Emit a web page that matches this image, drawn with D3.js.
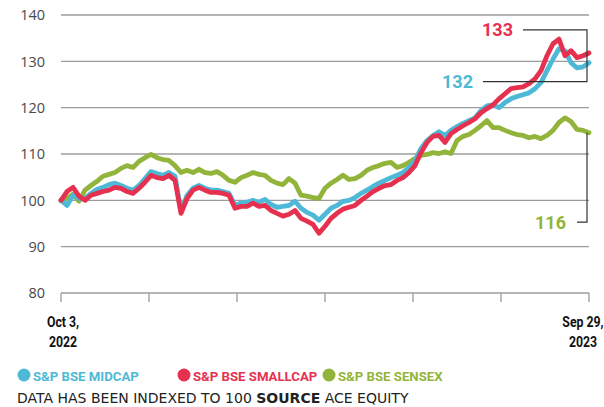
<!DOCTYPE html>
<html><head><meta charset="utf-8">
<script src="https://cdn.jsdelivr.net/npm/d3@7"></script>
<style>
body{margin:0;background:#fff;}
svg{display:block;}
</style></head><body>
<svg id="c" width="604" height="407"></svg>
<script>
// ---- data (indexed to 100, sampled across Oct 3, 2022 – Sep 29, 2023) ----
const seriesNames = ["S&P BSE MIDCAP", "S&P BSE SMALLCAP", "S&P BSE SENSEX"];
const seriesColors = ["#4db9d6", "#e6304f", "#93b43a"];
const yTicks = [80, 90, 100, 110, 120, 130, 140];
const xTickCount = 7;
const startLabel = ["Oct 3,", "2022"];
const endLabel = ["Sep 29,", "2023"];
const endValueLabels = ["132", "133", "116"];

const midcap = [100.0,98.9,101.1,100.4,100.4,101.5,102.4,102.8,103.4,103.7,103.2,102.6,102.2,103.2,104.7,106.2,105.8,105.4,106.0,105.2,
97.6,101.1,102.6,103.2,102.6,102.2,102.2,101.9,101.5,98.9,99.4,99.6,100.0,99.6,100.2,99.1,98.5,98.7,98.9,99.8,
98.3,97.4,96.8,95.7,97.0,98.3,98.9,99.8,100.0,100.6,101.5,102.2,103.0,103.7,104.3,104.9,105.4,106.0,107.1,108.6,
111.2,112.9,114.0,114.8,114.0,115.1,115.9,116.6,117.2,117.8,119.4,120.4,120.6,120.0,121.1,121.9,122.4,122.8,123.2,124.1,
125.4,128.0,130.5,132.7,132.3,129.7,128.6,128.8,129.7];
const smallcap = [100.0,101.9,102.8,100.9,100.0,101.1,101.5,101.9,102.2,102.8,102.6,101.9,101.5,102.6,103.9,105.4,104.9,104.7,105.4,104.3,
97.2,100.4,102.2,102.8,102.2,101.7,101.7,101.5,101.1,98.3,98.7,98.7,99.4,98.7,98.9,97.8,97.2,96.6,97.0,97.8,
96.1,95.5,94.8,92.9,94.4,96.1,97.2,98.1,98.5,98.9,100.0,100.9,101.9,102.6,103.2,103.4,104.3,104.9,106.0,107.5,
110.3,112.5,113.8,114.0,112.5,114.4,115.3,116.1,116.8,117.6,118.9,119.8,120.6,121.9,123.0,124.1,124.3,124.5,125.2,126.2,
128.0,131.2,133.8,134.8,131.2,132.3,130.8,131.2,131.8];
const sensex = [100.0,100.4,101.3,99.8,102.2,103.2,104.1,105.2,105.6,106.0,106.9,107.5,107.1,108.4,109.2,109.9,109.2,108.8,108.6,107.5,
106.0,106.5,106.0,106.7,106.0,105.8,106.2,105.4,104.3,103.9,104.9,105.4,106.0,105.6,105.4,104.3,103.7,103.4,104.7,103.7,
101.1,100.9,100.6,100.4,102.6,103.7,104.5,105.4,104.5,104.7,105.4,106.5,107.1,107.5,108.0,108.2,107.1,107.5,108.2,109.0,
109.7,109.9,110.3,110.1,110.5,110.1,112.9,113.8,114.2,115.1,116.1,117.2,115.7,115.7,115.1,114.6,114.2,114.0,113.5,113.8,
113.3,114.0,115.1,116.8,117.8,117.0,115.3,115.1,114.6];
const allSeries = [midcap, smallcap, sensex];

// ---- layout ----
const svg = d3.select("#c");
const x0 = 61, x1 = 589;
const x = d3.scaleLinear().domain([0, midcap.length - 1]).range([x0, x1]);
const y = d3.scaleLinear().domain([80, 140]).range([293, 15]);
const labelFont = "'Open Sans', 'DejaVu Sans', sans-serif";

// gridlines
svg.append("g").selectAll("line").data(yTicks).join("line")
  .attr("x1", x0).attr("x2", x1)
  .attr("y1", d => y(d)).attr("y2", d => y(d))
  .attr("stroke", "#9c9c9c").attr("stroke-width", 1.3);

// y labels
svg.append("g").selectAll("text").data(yTicks).join("text")
  .attr("x", 45).attr("y", d => y(d)).attr("dy", "0.36em")
  .attr("text-anchor", "end")
  .attr("font-family", labelFont).attr("font-size", 14.5)
  .attr("fill", "#4a4a4a")
  .text(d => d);

// x ticks
const xt = d3.scaleLinear().domain([0, xTickCount - 1]).range([x0, x1]);
svg.append("g").selectAll("line").data(d3.range(xTickCount)).join("line")
  .attr("x1", d => xt(d)).attr("x2", d => xt(d))
  .attr("y1", y(80)).attr("y2", y(80) + 9)
  .attr("stroke", "#9c9c9c").attr("stroke-width", 1.3);

// lines: sensex, midcap, smallcap
const line = d3.line().x((d, i) => x(i)).y(d => y(d)).curve(d3.curveLinear);
[2, 0, 1].forEach(k => {
  svg.append("path").datum(allSeries[k])
    .attr("d", line).attr("fill", "none")
    .attr("stroke", seriesColors[k]).attr("stroke-width", 4.8)
    .attr("stroke-linejoin", "round").attr("stroke-linecap", "round");
});

// annotation brackets
const ann = svg.append("g").attr("stroke", "#333").attr("stroke-width", 1.2).attr("fill", "none");
const bx = 587;
ann.append("path").attr("d", `M523,${y(136.8)}H${bx}V${y(125.6)}H483`);
ann.append("path").attr("d", `M${bx},${y(sensex[sensex.length-1])}V${y(95.3)}H577`);

const valFont = "'Roboto', 'Open Sans', sans-serif";
svg.append("text").attr("x", 513).attr("y", y(136.8)).attr("dy", "0.36em")
  .attr("text-anchor", "end").attr("font-family", valFont).attr("font-weight", 700)
  .attr("font-size", 18).attr("fill", seriesColors[1]).text(endValueLabels[1]);
svg.append("text").attr("x", 473).attr("y", y(125.6)).attr("dy", "0.36em")
  .attr("text-anchor", "end").attr("font-family", valFont).attr("font-weight", 700)
  .attr("font-size", 18).attr("fill", seriesColors[0]).text(endValueLabels[0]);
svg.append("text").attr("x", 566).attr("y", y(95.3)).attr("dy", "0.36em")
  .attr("text-anchor", "end").attr("font-family", valFont).attr("font-weight", 700)
  .attr("font-size", 18).attr("fill", seriesColors[2]).text(endValueLabels[2]);

// date labels (condensed bold)
const dateFont = "'Roboto', 'Liberation Sans', sans-serif";
function dateLabel(lines, cx) {
  lines.forEach((t, i) => {
    svg.append("text")
      .attr("transform", `translate(${cx},${327 + i * 20}) scale(0.82,1)`)
      .attr("text-anchor", "middle").attr("font-family", dateFont)
      .attr("font-weight", 700).attr("font-size", 15).attr("fill", "#111").text(t);
  });
}
dateLabel(startLabel, 63);
dateLabel(endLabel, 583);

// legend
const legFont = "'Roboto', 'Open Sans', sans-serif";
const legX = [24, 184, 329];
seriesNames.forEach((n, i) => {
  svg.append("circle").attr("cx", legX[i]).attr("cy", 375).attr("r", 6.5).attr("fill", seriesColors[i]);
  svg.append("text").attr("x", legX[i] + 9).attr("y", 380.5)
    .attr("font-family", legFont).attr("font-weight", 700).attr("font-size", 13.2)
    .attr("fill", seriesColors[i]).text(n);
});

// footnote
const foot = svg.append("text").attr("x", 17).attr("y", 403)
  .attr("font-family", "'DejaVu Sans', sans-serif").attr("font-size", 14).attr("fill", "#222");
foot.append("tspan").text("DATA HAS BEEN INDEXED TO 100 ");
foot.append("tspan").attr("font-weight", 700).text("SOURCE");
foot.append("tspan").text(" ACE EQUITY");
</script>
</body></html>
